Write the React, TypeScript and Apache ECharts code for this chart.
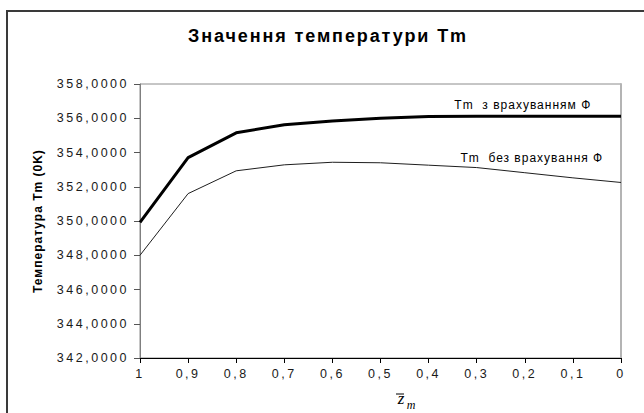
import React, { useEffect, useRef } from "react";
import * as echarts from "echarts";

// Relative coordinate z̄m along the axis (from 1 down to 0)
const zmLabels = ["1", "0,9", "0,8", "0,7", "0,6", "0,5", "0,4", "0,3", "0,2", "0,1", "0"];

// Temperature Tm with Φ taken into account, K
const tmWithPhi = [349.92, 353.7, 355.15, 355.62, 355.84, 356.0, 356.1, 356.12, 356.12, 356.12, 356.12];

// Temperature Tm without Φ, K
const tmWithoutPhi = [348.0, 351.6, 352.93, 353.28, 353.43, 353.4, 353.26, 353.12, 352.82, 352.52, 352.25];

const yTicks = { min: 342, max: 358, step: 2 };

const labelWithPhi = "Tm  з врахуванням Ф";
const labelWithoutPhi = "Tm  без врахування Ф";
const titleText = "Значення температури Tm";
const yName = "Температура Tm (0K)";

// the curve names sit above this point of each curve
const LABEL_INDEX = 8;

const hiddenMarker = {
  symbol: "circle",
  symbolSize: 1,
  itemStyle: { color: "rgba(0,0,0,0)", borderWidth: 0 },
};

export default function App() {
  const ref = useRef<HTMLDivElement>(null);

  useEffect(() => {
    if (!ref.current) return;
    const chart = echarts.init(ref.current, null, { renderer: "svg" });

    const withPhiData = tmWithPhi.map((v, i) =>
      i === LABEL_INDEX
        ? {
            value: v,
            ...hiddenMarker,
            label: {
              show: true,
              position: "top",
              distance: 5,
              offset: [-2, 0],
              formatter: labelWithPhi,
              fontFamily: "Arial",
              fontSize: 12,
              color: "#000",
            },
          }
        : v
    );
    const withoutPhiData = tmWithoutPhi.map((v, i) =>
      i === LABEL_INDEX
        ? {
            value: v,
            ...hiddenMarker,
            label: {
              show: true,
              position: "top",
              distance: 8,
              offset: [7, 0],
              formatter: labelWithoutPhi,
              fontFamily: "Arial",
              fontSize: 12,
              color: "#000",
            },
          }
        : v
    );

    chart.setOption({
      animation: false,
      backgroundColor: "#fff",
      title: {
        text: titleText,
        left: 328,
        top: 27,
        padding: 0,
        textAlign: "center",
        textStyle: { fontFamily: "Arial", fontWeight: "bold", fontSize: 18, color: "#000" },
      },
      grid: {
        left: 140,
        right: 23,
        top: 84,
        bottom: 55,
        show: true,
        borderColor: "#8c8c8c",
        borderWidth: 1,
        backgroundColor: "transparent",
      },
      xAxis: {
        type: "category",
        data: zmLabels,
        boundaryGap: false,
        axisLine: { lineStyle: { color: "#000", width: 1 } },
        axisTick: { show: true, inside: false, length: 5, lineStyle: { color: "#000" } },
        axisLabel: {
          margin: 9,
          fontFamily: "Liberation Sans",
          fontSize: 12.5,
          color: "#1a1a1a",
        },
        splitLine: { show: false },
      },
      yAxis: [
        {
          type: "value",
          min: yTicks.min,
          max: yTicks.max,
          interval: yTicks.step,
          name: yName,
          nameLocation: "middle",
          nameGap: 96,
          nameTextStyle: { fontFamily: "Arial", fontWeight: 600, fontSize: 12, color: "#000" },
          axisLine: { show: true, lineStyle: { color: "#7f7f7f", width: 1 } },
          axisTick: { show: true, inside: false, length: 6, lineStyle: { color: "#555" } },
          axisLabel: {
            margin: 11,
            fontFamily: "Liberation Sans",
            fontSize: 12.5,
            color: "#1a1a1a",
            formatter: (v: number) => v.toFixed(4).replace(".", ","),
          },
          splitLine: { show: false },
        },
        {
          type: "value",
          position: "right",
          min: yTicks.min,
          max: yTicks.max,
          interval: yTicks.step,
          axisLine: { show: true, lineStyle: { color: "#b4b4b4", width: 2 } },
          axisTick: { show: false },
          axisLabel: { show: false },
          splitLine: { show: false },
        },
      ],
      series: [
        {
          name: labelWithPhi,
          type: "line",
          data: withPhiData,
          symbol: "none",
          lineStyle: { color: "#000", width: 3 },
          z: 3,
        },
        {
          name: labelWithoutPhi,
          type: "line",
          data: withoutPhiData,
          symbol: "none",
          lineStyle: { color: "#1e1e1e", width: 1 },
          z: 2,
        },
      ],
      graphic: [
        {
          type: "rect",
          shape: { x: 7, y: 11, width: 700, height: 500 },
          style: { fill: "none", stroke: "#3a3a3a", lineWidth: 2 },
          silent: true,
        },
        {
          type: "text",
          x: 401,
          y: 398,
          style: {
            text: "z",
            font: "italic 17px 'Times New Roman'",
            fill: "#000",
            align: "center",
            verticalAlign: "middle",
          },
        },
        {
          type: "text",
          x: 411,
          y: 405,
          style: {
            text: "m",
            font: "italic 12px 'Times New Roman'",
            fill: "#000",
            align: "center",
            verticalAlign: "middle",
          },
        },
        {
          type: "line",
          shape: { x1: 396, y1: 394, x2: 404, y2: 394 },
          style: { stroke: "#000", lineWidth: 1 },
        },
      ],
    });

    return () => chart.dispose();
  }, []);

  return (
    <>
      <style>{`
        .tm-chart text[style*="Liberation"] { letter-spacing: 2.5px; }
        .tm-chart text[style*="Arial"] { letter-spacing: 1px; }
        .tm-chart text[style*="Arial"][style*="bold"] { letter-spacing: 1.9px; }
      `}</style>
      <div
        ref={ref}
        className="tm-chart"
        style={{ position: "fixed", left: 0, top: 0, width: 644, height: 413 }}
      />
    </>
  );
}
